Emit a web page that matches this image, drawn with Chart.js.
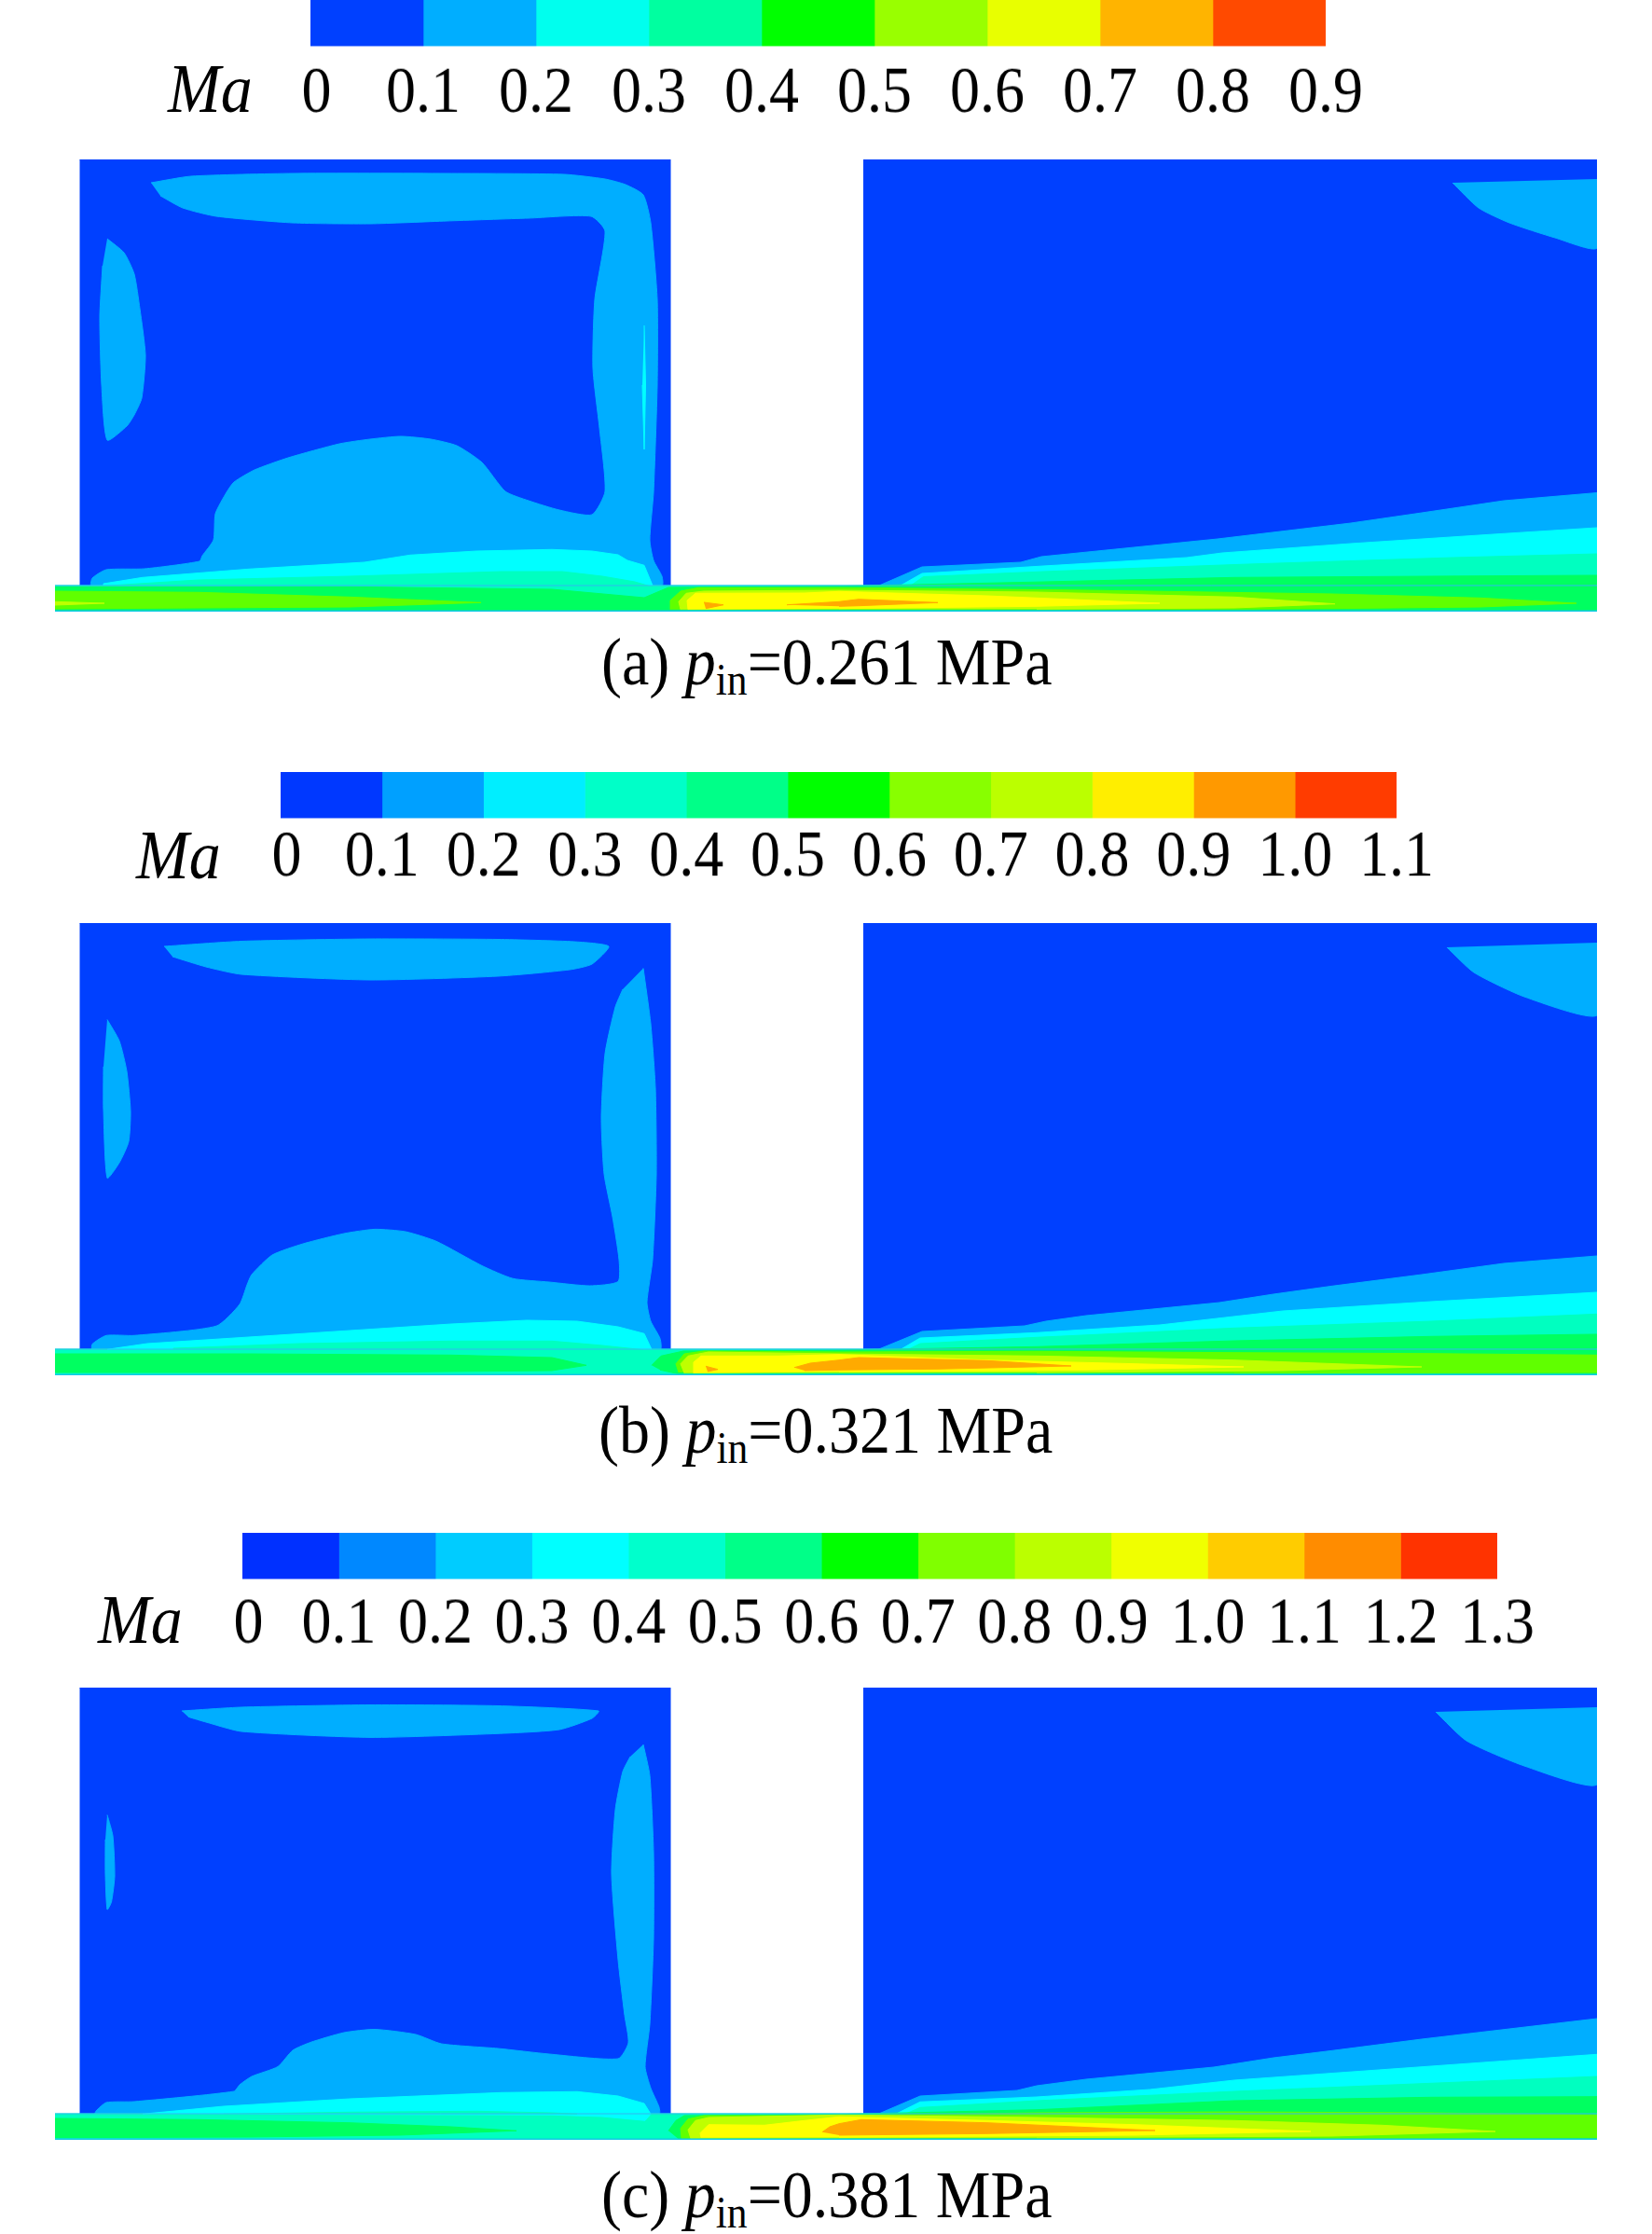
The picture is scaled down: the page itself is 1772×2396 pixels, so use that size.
<!DOCTYPE html>
<html>
<head>
<meta charset="utf-8">
<script src="https://cdn.jsdelivr.net/npm/chart.js@4"></script>
<style>
  html, body { margin: 0; padding: 0; background: #fff; }
  #page { position: relative; width: 1772px; height: 2396px; overflow: hidden; }
  canvas { position: absolute; }
  .txt { position: absolute; font-family: "Liberation Serif", serif; color: #000; white-space: pre;
         line-height: 1; transform-origin: left top; transform: scaleY(1.1); }
  .txt sub { font-size: 0.66em; vertical-align: baseline; position: relative; top: 0.22em; line-height: 0; }
</style>
</head>
<body>
<div id="page"></div>
<script>
// colorbars: one bar per band, tick labels on the edges
const ticksA = ["0","0.1","0.2","0.3","0.4","0.5","0.6","0.7","0.8","0.9"]
const ticksB = ["0","0.1","0.2","0.3","0.4","0.5","0.6","0.7","0.8","0.9","1.0","1.1"]
const ticksC = ["0","0.1","0.2","0.3","0.4","0.5","0.6","0.7","0.8","0.9","1.0","1.1","1.2","1.3"]
const bandsA = ["#0040ff","#00aeff","#00ffee","#00ffa0","#00ff00","#99ff00","#e8ff00","#ffb400","#ff4a00"]
const bandsB = ["#0038ff","#00a0ff","#00eeff","#00ffc8","#00ff88","#00ff00","#88ff00","#bbff00","#ffee00","#ff9900","#ff3c00"]
const bandsC = ["#0030ff","#0088ff","#00ccff","#00ffff","#00ffcc","#00ff88","#00ff00","#80ff00","#bbff00","#f0ff00","#ffcc00","#ff8c00","#ff3300"]

// contour fill colours
const blue = "#0040ff", sky = "#00aeff", cyan = "#00ffff", aqua = "#00ffc0", green = "#00ff60"
const lime = "#60ff00", yelgreen = "#bfff00", yellow = "#ffff00", orange = "#ffaa00"

// domain, units from the lower left corner of the channel
const leftBlock = [[26.5,28],[660,28],[660,485],[26.5,485]]
const rightBlock = [[867,28],[1654,28],[1654,485],[867,485]]
const channel = [[0,0],[1654,0],[1654,28],[0,28]]
const channelBottom = [[0,0.6],[1654,0.6]]
const channelTop = [[0,28],[1654,28]]

// (a) 0.261 MPa
const aSky = [[103,460],[146,467],[255,470],[420,470],[546,469],[590,464],[612,458],[631,447],[639,417],[646,335],[646,243],[642,128],[638,77],[642,55],[651,38],[651,28],[39,28],[40,36],[55,45],[96,46],[155,54],[158,60],[170,77],[172,105],[184,128],[192,139],[214,152],[250,165],[305,180],[338,185],[371,188],[403,185],[431,178],[458,160],[483,129],[508,119],[541,109],[576,104],[590,129],[584,197],[577,261],[579,335],[590,408],[575,424],[508,422],[420,419],[338,416],[255,417],[173,424],[137,433],[113,446]]
const aSkyLeft = [[56,400],[74,385],[85,362],[91,325],[97,275],[93,229],[85,211],[77,199],[56,184],[50,243],[48,316],[51,371]]
const aSkyCorner = [[1499,460],[1527,433],[1560,417],[1609,401],[1654,390],[1654,464]]
const aSkyRight = [[884,28],[930,48],[1036,53],[1058,59],[1247,78],[1390,95],[1466,106],[1554,119],[1654,127.5],[1654,28]]
const aCyanSliver = [[632,307],[633.5,243],[632,174],[630,243]]
const aCyanLeft = [[52,28],[52,30],[94,36.7],[208,45.7],[332,53],[381,60.7],[452,65],[533,66.7],[576,65],[604,61],[614,55],[632,49.7],[641,28]]
const aCyanRight = [[907,28],[930,41],[1060,49],[1214,58],[1252,63],[1390,73],[1543,83],[1654,90],[1654,28]]
const aAquaLeft = [[53,27.7],[154,34],[316,38],[479,43],[544,43],[587,38],[622,32],[639,27]]
const aAquaRight = [[918,28],[931.5,37.5],[1060,43],[1280,51],[1499,58],[1654,62],[1654,28]]
const aGreen = [[0,26.7],[316,26.7],[533,24],[632,15],[658,26],[841,27.3],[1060,32],[1265,36.7],[1476,38],[1654,39],[1654,1],[0,1]]
const aLimeLeft = [[0,22],[154,20.7],[316,15.7],[457,9.7],[316,5],[154,4],[0,3]]
const aLimeRight = [[660,2.3],[660,12],[671,22],[690,25.7],[841,25.7],[1106,23],[1370,19],[1529,14.7],[1632,9],[1529,5],[1370,3.3],[1106,2]]
const aYgLeft = [[0,10.7],[53,9],[0,7]]
const aYgRight = [[671,2.3],[669,10.7],[677,19.7],[696,22],[841,23],[1053,21],[1265,15.7],[1373,8.3],[1265,4],[1053,2.7]]
const aYellow = [[679,2.3],[678,12],[687,19.7],[804,20],[841,21.7],[1000,17],[1185,9],[1053,5.7],[841,3.3]]
const aOrange1 = [[696,10],[717,7.3],[698,3.3]]
const aOrange2 = [[785,7.3],[841,10.7],[862,13.3],[947,9.7],[862,6.3],[841,5.7]]

// (b) 0.321 MPa
const bSkyTop = [[117,460],[200,465.5],[338,468],[475,467.5],[557,465],[594,460],[576,441],[552,435],[475,428],[338,424],[200,430],[162,438],[126,449]]
const bSkyLeft = [[56,381.5],[69,358.6],[77,326],[81,283],[79,250.6],[69,228],[56,211.6],[52,285],[52,331]]
const bSkyBig = [[631,436.6],[639,377],[644,308],[645,216],[641,124],[635,78.5],[639,58],[649,39.5],[649,27.5],[40,27.5],[40,33.5],[55,42.7],[85,42.7],[173,52.8],[198,76],[206,97],[211,108],[233,129],[266,141],[310,152],[343,156.6],[376,154],[409,143.7],[458,117.5],[491,103.8],[530,100],[573.5,96],[604,100.5],[605,124],[598,170],[589,216],[586,276],[590,345],[601,395],[609,414]]
const bSkyCorner = [[1493,459],[1522,432],[1576,406],[1654,386],[1654,464]]
const bSkyRight = [[883,27.7],[930,47],[1040,53],[1063,58],[1106,64],[1249,78],[1307,87],[1370,95.7],[1466,108],[1554,120],[1654,128],[1654,27.7]]
const bCyanLeft = [[56,27.7],[99,34],[208,41],[425,55],[506,59],[560,58],[604,52],[632,44.7],[640,27.7]]
const bCyanRight = [[907,27.7],[928,40],[1053,45.7],[1185,54],[1317,69],[1476,79],[1654,89],[1654,27.7]]
const bAquaLeft = [[127,27.5],[127,29],[262,34],[425,36.7],[533,36.7],[587,32],[631,27.3]]
const bAquaRight = [[915,27.7],[928,34],[1053,40.7],[1265,50.7],[1476,58],[1654,65.7],[1654,27.7]]
const bGreenLeft = [[0,23],[208,23],[425,21.7],[533,19],[570,10.7],[533,5],[316,3],[0,3]]
const bGreenRight = [[640,10.7],[650,20.7],[674,26],[841,27],[1053,30.7],[1265,37],[1476,41.7],[1654,44],[1654,1],[668.5,1.5],[649,5.7]]
const bLime = [[669,3],[666,12.3],[675,23],[696,26],[841,25],[1053,25.7],[1265,24.3],[1476,23.3],[1654,21.7],[1654,3],[1265,2.3]]
const bYg = [[675,2.3],[671,12.3],[679,20.7],[701,25],[841,23],[1053,20.7],[1265,16.3],[1466,9],[1317,5],[1053,3]]
const bYellow = [[685,2.3],[685,14],[693,20.7],[777,20.7],[841,22.3],[1000,16.3],[1159,12.3],[1275,9],[1106,5.7],[841,3.7]]
const bOrange1 = [[698,9.7],[711,6.3],[700,4]]
const bOrange2 = [[793,8.3],[810,13],[841,16.3],[862,19],[1000,15.7],[1090,10],[947,6.7],[841,5.7],[804,5]]

// (c) 0.381 MPa
const cSkyTop = [[136,460],[200,464],[338,466.5],[475,465.5],[583,460],[576,452],[541,440],[475,435.7],[338,431.6],[200,438],[162,448],[143,453.6]]
const cSkyLeft = [[56,348.5],[62,326],[64,283],[60.5,255],[56,247],[54,285],[54,322]]
const cSkyBig = [[631,424],[638,390.7],[642,308],[642,216],[638,124],[633,78.5],[639,55.6],[648,35],[648,27.5],[43,27.5],[44,31],[55,40],[85,41],[192,52],[198,59],[211,68],[239,78.5],[255,96],[274.5,104.7],[310,115],[343,118.5],[387,113],[414.6,103],[475,98],[530,92],[604,87],[615,104],[611,133.6],[604,193],[597,285],[601,354],[609,395],[617,411]]
const cSkyCorner = [[1481,459],[1514,428],[1576,401],[1654,381],[1654,464]]
const cSkyRight = [[883,27.7],[928,47],[1032,53],[1053,58],[1106,65],[1243,78],[1307,88],[1370,95.7],[1466,108],[1654,130],[1654,27.7]]
const cCyanLeft = [[94,27.7],[181,36],[316,44],[479,50.7],[560,51.7],[604,47],[632,39],[639,27.7],[633,20.7],[587,25],[533,26.7],[181,27.7]]
const cCyanRight = [[902,27.7],[928,40.7],[1053,46],[1174.5,54],[1265,64],[1476,79],[1654,91.7],[1654,27.7]]
const cAquaLeft = [[181,27.7],[316,29.7],[452,30.7],[533,29],[560,27.7]]
const cAquaRight = [[912,27.7],[928,34.7],[1053,42],[1265,52],[1476,60.7],[1654,68],[1654,27.7]]
const cGreenLeft = [[0,23],[154,21.7],[316,18.3],[425,14],[495,9.7],[370,5],[208,3],[0,2.3]]
const cGreenRight = [[658,9.7],[666,20.7],[675,26],[841,27.3],[1053,32.3],[1265,42],[1476,45.7],[1654,46.3],[1654,1],[668,1.5]]
const cLime = [[672,1.3],[671,12.3],[679,22.3],[696,26],[841,26],[1053,29],[1265,30],[1476,29],[1654,26.7],[1654,2.3],[1265,1.3]]
const cYg = [[682,1.3],[679,10.7],[687,20.7],[701,24],[841,26.7],[1053,24],[1265,20.7],[1423,15.7],[1545,9],[1370,4],[1053,2.3]]
const cYellow = [[693,2.3],[692,7.3],[701,16.3],[761,15.7],[804,20.7],[841,24.7],[1000,20.7],[1159,16.3],[1347,9],[1159,5],[841,2.7]]
const cOrange = [[823,8.3],[831,14],[841,17.3],[865,21.7],[1000,18.3],[1180,10],[1000,6.7],[841,5]]

// third entry: curve tension of the outline, the big low speed patches are rounded
const round = 0.2
const panelA = [[leftBlock,blue],[rightBlock,blue],[aSky,sky,round],[aSkyLeft,sky,round],[aSkyCorner,sky,round],[channel,aqua],[aSkyRight,sky],
  [aCyanSliver,cyan],[aCyanLeft,cyan],[aCyanRight,cyan],[aAquaLeft,aqua],[aAquaRight,aqua],[aGreen,green],
  [aLimeLeft,lime],[aLimeRight,lime],[aYgLeft,yelgreen],[aYgRight,yelgreen],[aYellow,yellow],[aOrange1,orange],[aOrange2,orange]]
const panelB = [[leftBlock,blue],[rightBlock,blue],[bSkyBig,sky,round],[bSkyTop,sky,round],[bSkyLeft,sky,round],[bSkyCorner,sky,round],[channel,aqua],[bSkyRight,sky],
  [bCyanLeft,cyan],[bCyanRight,cyan],[bAquaLeft,aqua],[bAquaRight,aqua],[bGreenLeft,green],[bGreenRight,green],
  [bLime,lime],[bYg,yelgreen],[bYellow,yellow],[bOrange1,orange],[bOrange2,orange]]
const panelC = [[leftBlock,blue],[rightBlock,blue],[cSkyBig,sky,round],[cSkyTop,sky,round],[cSkyLeft,sky,round],[cSkyCorner,sky,round],[channel,aqua],[cSkyRight,sky],
  [cCyanLeft,cyan],[cCyanRight,cyan],[cAquaLeft,aqua],[cAquaRight,aqua],[cGreenLeft,green],[cGreenRight,green],
  [cLime,lime],[cYg,yelgreen],[cYellow,yellow],[cOrange,orange]]

const page = document.getElementById("page")
const stretch = 1.1

const addCanvas = (left, top, width, height, css) => {
  const c = document.createElement("canvas")
  c.width = width
  c.height = height
  c.style.cssText = `left:${left}px;top:${top}px;width:${width}px;height:${height}px;` + (css || "")
  page.appendChild(c)
  return c
}

const addText = (left, top, size, html) => {
  const d = document.createElement("div")
  d.className = "txt"
  d.style.left = left + "px"
  d.style.top = top + "px"
  d.style.fontSize = size + "px"
  d.innerHTML = html
  page.appendChild(d)
}

const create_colorbar = (left, top, width, ticks, bands, labelGap) => {
  const pad = 70
  const barH = 49 / stretch
  const labelH = 90
  const c = addCanvas(left - pad, top, width + pad * 2, Math.round(barH + labelH),
    `transform:scaleY(${stretch});transform-origin:left top;`)
  new Chart(c, {
    type: "bar",
    data: {
      labels: ["Ma"],
      datasets: bands.map((color) => ({ data: [0.1], backgroundColor: color, borderWidth: 0, barPercentage: 1, categoryPercentage: 1 }))
    },
    options: {
      indexAxis: "y",
      responsive: false,
      animation: false,
      layout: { padding: { left: pad, right: pad, top: 0, bottom: 0 } },
      plugins: { legend: { display: false }, tooltip: { enabled: false } },
      scales: {
        y: { stacked: true, display: false },
        x: {
          stacked: true, min: 0, max: (ticks.length - 1) / 10,
          grid: { display: false }, border: { display: false },
          afterBuildTicks: (axis) => { axis.ticks = ticks.map((t) => ({ value: Number(t) })) },
          afterFit: (axis) => { axis.height = labelH },
          ticks: {
            autoSkip: false, maxRotation: 0, minRotation: 0, padding: labelGap, color: "#000",
            font: { family: "Liberation Serif", size: 64 },
            // the "0" sits a little right of the bar edge
            callback: (v, i) => (i === 0 ? "\u2009" : "") + ticks[i]
          }
        }
      }
    }
  })
}

const create_contour = (top, layers) => {
  const c = addCanvas(59, top, 1654, 485)
  const datasets = layers.map(([pts, color, tension]) => ({
    data: pts.map(([x, y]) => ({ x, y })),
    showLine: true, fill: "shape", tension: tension || 0, pointRadius: 0,
    backgroundColor: color, borderColor: color, borderWidth: 1
  }))
  datasets.push({ data: channelBottom.map(([x, y]) => ({ x, y })), showLine: true, pointRadius: 0, borderColor: "#14c8e6", borderWidth: 2 })
  datasets.push({ data: channelTop.map(([x, y]) => ({ x, y })), showLine: true, pointRadius: 0, borderColor: "#30b8f0", borderWidth: 1 })
  // chart.js paints the last dataset first
  datasets.reverse()
  new Chart(c, {
    type: "scatter",
    data: { datasets },
    options: {
      responsive: false,
      animation: false,
      layout: { padding: 0 },
      plugins: { legend: { display: false }, tooltip: { enabled: false } },
      scales: {
        x: { type: "linear", display: false, min: 0, max: 1654 },
        y: { type: "linear", display: false, min: 0, max: 485 }
      }
    }
  })
}

create_colorbar(333, 0, 1089, ticksA, bandsA, 1)
create_colorbar(301, 828, 1197, ticksB, bandsB, -7)
create_colorbar(260, 1644, 1346, ticksC, bandsC, -1)

create_contour(171, panelA)
create_contour(990, panelB)
create_contour(1810, panelC)

addText(180, 57, 68, "<i>Ma</i>")
addText(146, 879, 68, "<i>Ma</i>")
addText(105, 1699, 68, "<i>Ma</i>")

addText(645, 673, 66, "(a) <i>p</i><sub>in</sub>=0.261 MPa")
addText(642, 1497, 66, "(b) <i>p</i><sub>in</sub>=0.321 MPa")
addText(645, 2317, 66, "(c) <i>p</i><sub>in</sub>=0.381 MPa")
</script>
</body>
</html>
